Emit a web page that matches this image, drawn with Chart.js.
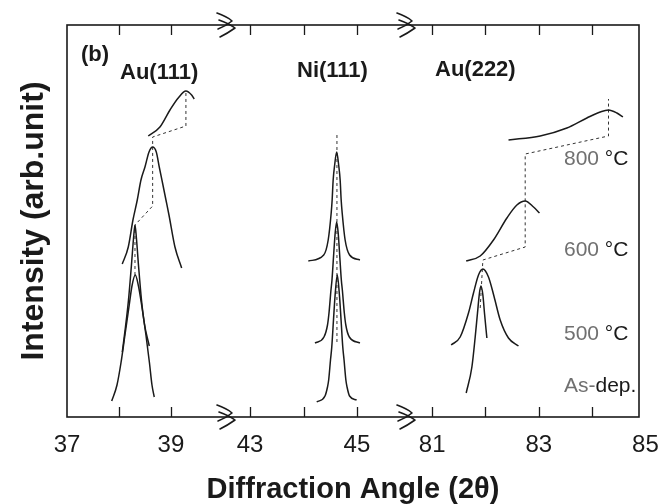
<!DOCTYPE html>
<html><head><meta charset="utf-8">
<script src="https://cdn.jsdelivr.net/npm/chart.js@4/dist/chart.umd.min.js"></script>
<style>html,body{margin:0;padding:0;background:#fff}#wrap{width:662px;height:504px}</style>
</head><body><div id="wrap"><canvas id="c" width="662" height="504"></canvas></div>
<script>
// ---- axis data (2θ, degrees) ----
const seg1Range = [37, 40.04];
const seg2Range = [42.53, 45.9];
const seg3Range = [80.49, 84.88];
const seg1Ticks = [37, 38, 39];
const seg2Ticks = [43, 44, 45];
const seg3Ticks = [81, 82, 83, 84, 85];
const labeledTicks = [37, 39, 43, 45, 81, 83, 85];
const intensityRange = [0, 392];
const peakLabels = ['Au(111)', 'Ni(111)', 'Au(222)'];
const sampleNums = ['800', '600', '500', 'As-'];
const sampleUnits = [' °C', ' °C', ' °C', 'dep.'];

// ---- series: [2θ, intensity (arb. unit)] ----
const au111AsDep = [[37.860,16],[37.962,32],[38.038,54],[38.115,82],[38.192,110],[38.250,131],[38.313,142],[38.375,131],[38.442,110],[38.519,82],[38.587,54],[38.635,32],[38.679,20]];
const au111T500 = [[38.064,65],[38.125,90],[38.183,117],[38.240,152],[38.279,178],[38.308,192],[38.337,178],[38.375,152],[38.433,117],[38.490,93],[38.583,71]];
const au111T600 = [[38.063,153],[38.179,170],[38.269,197],[38.352,217],[38.423,237],[38.500,250],[38.578,265],[38.648,270],[38.718,265],[38.775,250],[38.846,232],[38.904,217],[38.962,202],[39.077,170],[39.206,149]];
const au111T800 = [[38.563,281],[38.788,290],[38.981,307],[39.140,319],[39.288,326],[39.398,322],[39.448,318]];
const au111Shift = [[38.308,142],[38.308,192],[38.648,211],[38.648,280],[39.288,291],[39.288,327]];

const ni111AsDep = [[44.247,15],[44.402,21],[44.449,30],[44.471,37],[44.505,57],[44.529,70],[44.561,97],[44.589,120],[44.632,142],[44.675,120],[44.703,97],[44.735,70],[44.759,57],[44.793,37],[44.815,30],[44.862,21],[44.994,17]];
const ni111T500 = [[44.215,74],[44.383,80],[44.449,92],[44.477,104],[44.514,127],[44.533,137],[44.570,167],[44.593,184],[44.621,195],[44.649,184],[44.671,167],[44.708,137],[44.727,127],[44.764,104],[44.792,92],[44.858,80],[45.056,74]];
const ni111T600 = [[44.090,156],[44.378,162],[44.462,177],[44.518,204],[44.536,217],[44.555,237],[44.583,252],[44.621,265],[44.658,252],[44.686,237],[44.705,217],[44.724,204],[44.779,177],[44.863,162],[45.056,157]];
const ni111Shift = [[44.626,75],[44.626,282]];

const au222AsDep = [[81.638,24],[81.745,50],[81.807,80],[81.850,104],[81.887,124],[81.914,131],[81.951,122],[81.981,104],[82.026,79]];
const au222T500 = [[81.356,72],[81.525,80],[81.681,104],[81.775,124],[81.869,142],[81.951,148],[82.056,140],[82.163,120],[82.276,97],[82.431,79],[82.619,71]];
const au222T600 = [[81.638,156],[81.901,161],[82.150,177],[82.402,199],[82.589,212],[82.745,216],[82.901,210],[83.013,204]];
const au222T800 = [[82.432,277],[83.026,281],[83.527,289],[83.902,299],[84.152,305],[84.308,307],[84.465,304],[84.578,300]];
const au222Shift = [[81.901,109],[81.951,157],[82.745,170],[82.745,263],[84.308,281],[84.308,318]];

const FONT = "'Liberation Sans', Arial, sans-serif";
const INK = '#1a1a1a';

function curve(pts, axis) {
  return { data: pts.map(p => ({x: p[0], y: p[1]})), xAxisID: axis, yAxisID: 'y',
    borderColor: INK, borderWidth: 1.5, pointRadius: 0, fill: false,
    cubicInterpolationMode: 'monotone' };
}
function dashed(pts, axis) {
  return { data: pts.map(p => ({x: p[0], y: p[1]})), xAxisID: axis, yAxisID: 'y',
    borderColor: '#333', borderWidth: 1, borderDash: [3, 3], pointRadius: 0, fill: false, tension: 0 };
}
function xSeg(range, ticks, weight) {
  return {
    type: 'linear', position: 'bottom', stack: 'x', stackWeight: weight, bounds: 'data',
    min: range[0], max: range[1],
    afterBuildTicks: s => { s.ticks = ticks.map(v => ({value: v})); },
    ticks: { autoSkip: false, maxRotation: 0, minRotation: 0, padding: 14, color: INK,
      font: { family: FONT, size: 24 },
      callback: v => labeledTicks.includes(v) ? String(v) : '' },
    grid: { display: false, drawTicks: false }, border: { display: false },
    afterFit: s => { s.height = 42; s.paddingLeft = 0; s.paddingRight = 0; }
  };
}

function drawBreak(ctx, x, y) {
  ctx.save();
  ctx.lineWidth = 1.6; ctx.strokeStyle = INK; ctx.lineCap = 'round'; ctx.lineJoin = 'round';
  ctx.beginPath();
  ctx.moveTo(x - 8, y - 12);
  ctx.quadraticCurveTo(x + 3, y - 8, x + 7, y - 4);
  ctx.quadraticCurveTo(x + 1, y + 1, x - 7, y + 4);
  ctx.moveTo(x - 6, y - 5);
  ctx.quadraticCurveTo(x + 5, y - 1, x + 10, y + 3);
  ctx.quadraticCurveTo(x + 3, y + 8, x - 5, y + 12);
  ctx.stroke();
  ctx.restore();
}

const decor = {
  id: 'decor',
  afterDatasetsDraw(chart) {
    const {ctx, chartArea: a, scales} = chart;
    ctx.save();
    ctx.strokeStyle = INK; ctx.lineWidth = 1.6;
    ctx.strokeRect(a.left, a.top, a.right - a.left, a.bottom - a.top);
    ctx.lineWidth = 1.3;
    for (const [id, vals] of [['x1', seg1Ticks], ['x2', seg2Ticks], ['x3', seg3Ticks]]) {
      const s = scales[id];
      for (const v of vals) {
        const px = Math.round(s.getPixelForValue(v)) + 0.5;
        if (px <= a.left + 2 || px >= a.right - 2) continue;
        ctx.beginPath();
        ctx.moveTo(px, a.bottom); ctx.lineTo(px, a.bottom - 10);
        ctx.moveTo(px, a.top); ctx.lineTo(px, a.top + 10);
        ctx.stroke();
      }
    }
    for (const bx of [scales.x1.right, scales.x2.right]) {
      drawBreak(ctx, bx, a.top);
      drawBreak(ctx, bx, a.bottom);
    }
    // panel and peak labels
    ctx.fillStyle = INK; ctx.textBaseline = 'middle'; ctx.textAlign = 'left';
    ctx.font = 'bold 22px ' + FONT;
    ctx.fillText('(b)', a.left + 14, a.top + 30);
    const peakPos = [[120, 73], [297, 71], [435, 70]];
    peakLabels.forEach((t, i) => ctx.fillText(t, peakPos[i][0], peakPos[i][1]));
    // sample labels
    ctx.font = '21px ' + FONT;
    const sampleY = [159, 250, 334, 386];
    sampleNums.forEach((t, i) => {
      const x = 564;
      ctx.fillStyle = '#707070';
      ctx.fillText(t, x, sampleY[i]);
      const w = ctx.measureText(t).width;
      ctx.fillStyle = INK;
      ctx.fillText(sampleUnits[i], x + w, sampleY[i]);
    });
    ctx.restore();
  }
};

new Chart(document.getElementById('c'), {
  type: 'line',
  data: { datasets: [
    curve(au111AsDep, 'x1'), curve(au111T500, 'x1'), curve(au111T600, 'x1'), curve(au111T800, 'x1'), dashed(au111Shift, 'x1'),
    curve(ni111AsDep, 'x2'), curve(ni111T500, 'x2'), curve(ni111T600, 'x2'), dashed(ni111Shift, 'x2'),
    curve(au222AsDep, 'x3'), curve(au222T500, 'x3'), curve(au222T600, 'x3'), curve(au222T800, 'x3'), dashed(au222Shift, 'x3')
  ]},
  options: {
    responsive: false, animation: false, devicePixelRatio: 1,
    layout: { padding: { left: 10, right: 23, top: 25, bottom: 0 } },
    plugins: { legend: { display: false }, tooltip: { enabled: false } },
    scales: {
      x1: xSeg(seg1Range, seg1Ticks, 158),
      x2: xSeg(seg2Range, seg2Ticks, 180),
      x3: xSeg(seg3Range, seg3Ticks, 234),
      xt: { type: 'linear', position: 'bottom', weight: 10, min: 0, max: 1,
        ticks: { display: false }, grid: { display: false, drawTicks: false }, border: { display: false },
        title: { display: true, text: 'Diffraction Angle (2θ)', color: INK,
          font: { family: FONT, size: 29, weight: 'bold', lineHeight: 1 }, padding: { top: 0, bottom: 0 } },
        afterFit: s => { s.height = 45; s.paddingLeft = 0; s.paddingRight = 0; } },
      y: { type: 'linear', position: 'left', min: intensityRange[0], max: intensityRange[1],
        ticks: { display: false }, grid: { display: false, drawTicks: false }, border: { display: false },
        title: { display: true, text: 'Intensity (arb.unit)', color: INK,
          font: { family: FONT, size: 32, weight: 'bold', lineHeight: 1 }, padding: { top: 8, bottom: 0 } },
        afterFit: s => { s.width = 57; s.paddingTop = 0; s.paddingBottom = 0; } }
    }
  },
  plugins: [decor]
});
</script>
</body></html>
